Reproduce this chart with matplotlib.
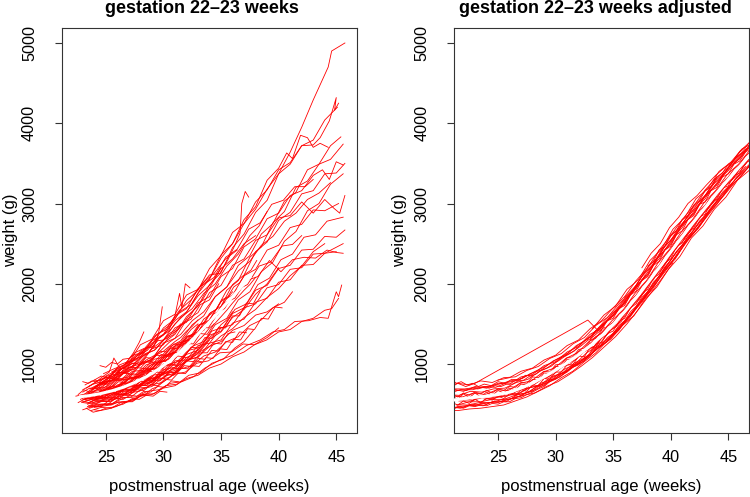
import matplotlib.pyplot as plt

plt.rcParams['font.family'] = ['Liberation Sans', 'DejaVu Sans']

# raw growth curves, one list per infant: postmenstrual age (weeks) and weight (g)
raw_weeks = [
    [23.4,24.3,25.2,26.1,27.0,28.0,29.0,30.0,31.0,32.0,33.0,34.0,35.0,36.0,37.0,38.0,39.0,40.0,41.0,42.0,43.0,44.3,44.6,45.75],
    [23.6,24.4,25.3,26.2,27.1,28.0,29.0,30.0,31.0,32.0,33.0,34.0,35.0,36.0,37.0,38.0,39.0,40.0,41.0,42.0,43.0,43.6,44.4,45.0,44.85,45.2],
    [23.1,24.0,25.0,26.0,27.0,28.0,29.0,30.0,31.0,32.0,33.0,34.0,35.0,36.0,37.0,38.0,39.0,40.0,41.0,42.0,43.0,44.0,45.1],
    [23.9,24.8,25.7,26.6,27.5,28.5,29.5,30.5,31.5,32.5,33.5,34.5,35.5,36.5,37.5,38.5,39.5,40.5,41.5,42.5,43.5,44.5,45.4],
    [22.9,23.8,24.7,25.6,26.5,27.5,28.5,29.5,30.5,31.5,32.5,33.5,34.5,35.5,36.5,37.5,38.5,39.5,40.5,41.5,42.5,43.5,44.5,45.6],
    [24.2,25.1,26.0,27.0,28.0,29.0,30.0,31.0,32.0,33.0,34.0,35.0,36.0,37.0,38.0,39.0,40.0,40.7,41.2,41.9,42.5,43.0,43.6,44.3],
    [23.3,24.2,25.1,26.0,27.0,28.0,29.0,30.0,31.0,32.0,33.0,34.0,35.0,36.0,37.0,38.0,39.0,40.0,41.0,42.0,43.0,44.0,45.0,45.75],
    [24.0,25.0,26.0,27.0,28.0,29.0,30.0,31.0,32.0,33.0,34.0,35.0,36.0,37.0,38.0,39.0,40.0,41.0,42.0,43.0,43.8,44.4,45.0,45.6],
    [23.5,24.5,25.5,26.5,27.5,28.5,29.5,30.5,31.5,32.5,33.5,34.5,35.5,36.5,37.5,38.5,39.5,40.5,41.5,42.5,43.5,44.5,45.6],
    [23.0,24.0,25.0,26.0,27.0,28.0,29.0,30.0,31.0,32.0,33.0,34.0,35.0,36.0,37.0,38.0,39.0,40.0,41.0,42.0,43.0,44.0,44.8,45.3,45.75],
    [24.4,25.3,26.2,27.1,28.0,29.0,30.0,31.0,32.0,33.0,34.0,35.0,36.0,37.0,38.0,39.0,40.0,41.0,42.0,43.0,44.0,45.2],
    [23.7,24.6,25.5,26.4,27.3,28.2,29.2,30.2,31.2,32.2,33.2,34.2,35.2,36.2,37.2,38.2,39.2,40.2,41.2,42.2,43.2,44.2,45.6],
    [23.5,24.4,25.3,26.2,27.1,28.0,29.0,30.0,31.0,32.0,33.0,34.0,34.9,35.6,36.2,36.65,36.8,37.1,37.4],
    [24.8,25.7,26.6,27.5,28.4,29.4,30.4,31.4,32.4,33.4,34.4,35.4,36.4,37.4,38.4,39.4,40.4,41.4,42.3,43.0],
    [23.2,24.1,25.0,26.0,27.0,28.0,29.0,30.0,31.0,32.0,33.0,34.0,35.0,36.0,37.0,38.0,39.0,40.0,41.0,42.0,43.0,44.0,45.0,45.75],
    [24.0,25.0,26.0,27.0,28.0,29.0,30.0,31.0,32.0,33.0,34.0,35.0,36.0,37.0,38.0,39.0,40.0,41.0,42.0,43.0,44.0,45.6],
    [23.4,24.3,25.2,26.1,27.0,28.0,29.0,30.0,31.0,32.0,33.0,34.0,35.0,36.0,37.0,38.0,39.0,40.0,41.0,42.0,43.0,44.0,45.0],
    [24.6,25.5,26.4,27.3,28.2,29.2,30.2,31.2,32.2,33.2,34.2,35.2,36.2,37.2,38.2,39.2,40.2,41.2,42.2,43.2,44.2,45.0,45.6],
    [23.8,24.7,25.6,26.5,27.4,28.3,29.3,30.3,31.3,32.3,33.3,34.3,35.3,36.3,37.3,38.3,39.3,40.3,41.2,42.0],
    [23.6,24.6,25.6,26.6,27.6,28.6,29.6,30.6,31.6,32.6,33.6,34.9,36.0,37.2,38.4,39.5,40.5,41.4,42.6,43.6,44.3,44.6,45.0,45.2,45.47],
    [23.9,24.9,25.9,26.9,27.9,28.9,29.9,30.9,31.9,32.9,33.9,34.9,35.9,36.9,37.9,38.96,40.0,41.0,42.0,43.0,44.0,44.6,45.2],
    [23.2,24.1,25.0,26.0,27.0,28.0,29.0,30.0,31.0,32.0,33.0,34.0,35.0,36.0,37.0,38.0,39.0,40.0],
    [23.5,24.3,25.1,25.9,26.7,27.4,27.9,28.3],
    [24.0,24.9,25.8,26.7,27.6,28.5,29.2,29.6,29.9],
    [23.3,24.2,25.1,26.0,26.9,27.8,28.7,29.6,30.5,31.0,31.4,31.6,31.9,32.3],
    [24.3,25.2,26.1,27.0,27.9,28.8,29.7,30.6,31.5,32.4,33.0],
    [23.0,23.9,24.8,25.7,26.6,27.5,28.5,29.5,30.5,31.5,32.5,33.5,34.5,35.3,36.0],
    [23.6,24.5,25.4,26.3,27.2,28.1,29.0,30.0,31.0,32.0,33.0,34.0],
    [22.4,23.3,24.2,25.1,26.0,26.9,27.8,28.7,29.4,30.0],
    [23.1,23.9,24.7,25.4,26.1,26.6,27.0],
    [24.5,25.4,26.3,27.2,28.1,29.0,30.0,31.0,32.0,33.0,34.0,35.0,36.0,37.0,38.0],
    [23.8,24.7,25.6,26.5,27.4,28.3,29.3,30.3,31.3,32.3,33.3,34.3,35.0],
    [25.0,25.9,26.8,27.7,28.6,29.5,30.5,31.5,32.5,33.5,34.5,35.5,36.5,37.5,38.3,39.0],
    [23.4,24.3,25.2,26.1,27.0,28.0,29.0,30.0,31.0,32.0,33.0,34.0,35.0,36.0,37.0,38.0,39.0,40.0],
    [23.7,24.6,25.5,26.4,27.3,28.2,29.2,30.2,31.2,32.2,33.2,34.2,35.2,36.2,37.0,37.8],
    [22.6,23.4,24.2,25.0,25.8],
    [23.0,23.8,24.6,25.4,26.2,27.0,27.8,28.5,29.1],
    [24.1,25.0,25.9,26.8,27.7,28.6,29.5,30.3,31.0],
    [23.0,23.9,24.8,25.7,26.6,27.5,28.4,29.4,30.4,31.4,32.4,33.4,34.4,35.4,36.4],
    [23.2,24.1,25.0,25.9,26.8,27.7,28.6,29.5,30.5,31.5,32.5,33.5,34.5,35.5,36.5,37.5,38.5,39.5,40.5,41.2],
    [23.3,24.0,24.7,25.3,25.7,26.2,26.8,27.5,28.2],
    [23.3,23.9,24.5,25.2,25.9,26.6,27.3,28.0,28.8],
    [22.8,23.4,24.0,24.6,25.2,25.8,26.4,27.0,27.6,28.2,28.8,29.4,30.0,30.6,31.2,31.8,32.4,33.0],
    [23.0,23.6,24.2,24.8,25.4,26.0,26.6,27.2,27.8,28.4,29.0,29.6,30.2,30.8,31.4,32.0,32.6,33.2,33.8,34.4],
    [23.5,24.1,24.7,25.3,25.9,26.5,27.1,27.7,28.3,28.9,29.5,30.1,30.7,31.3],
    [24.2,24.8,25.4,26.0,26.6,27.2,27.8,28.4,29.0,29.6,30.2,30.8,31.4,32.0,32.6,33.2,33.8,34.4,35.0,35.6,36.2],
    [23.2,23.8,24.4,25.0,25.6,26.2,26.8,27.4,28.0,28.6,29.2,29.8,30.4,31.0],
    [22.9,23.5,24.1,24.7,25.3,25.9,26.5,27.1,27.7,28.3,28.9,29.5,30.1,30.7,31.3,31.9,32.5,33.1,33.7,34.3,34.9,35.5,36.1,36.7,37.3,37.9,38.5,39.1,39.7,40.3],
    [24.0,24.6,25.2,25.8,26.4,27.0,27.6,28.2,28.8,29.4,30.0,30.6,31.2,31.8,32.4],
    [23.7,24.3,24.9,25.5,26.1,26.7,27.3,27.9,28.5,29.1,29.7,30.3],
    [23.4,24.0,24.6,25.2,25.8,26.4,27.0,27.6,28.2,28.8,29.4,30.0,30.6,31.2,31.8,32.4,33.0,33.6,34.2,34.8,35.4,36.0,36.6,37.2,37.8,38.4],
    [25.5,26.1,26.7,27.3,27.9,28.5,29.1,29.7,30.3,30.9,31.5,32.1,32.7,33.3,33.9,34.5],
    [23.1,23.7,24.3,24.9,25.5,26.1,26.7,27.3,27.9,28.5,29.1,29.7,30.3,30.9,31.5,32.1,32.7,33.3],
    [24.6,25.2,25.8,26.4,27.0,27.6,28.2,28.8,29.4,30.0,30.6,31.2,31.8,32.4,33.0,33.6,34.2,34.8,35.4,36.0,36.6,37.2],
    [23.9,24.5,25.1,25.7,26.3,26.9,27.5,28.1,28.7,29.3],
    [22.6,23.1,23.6,24.1,24.6,25.1,25.6,26.1,26.6,27.1,27.6,28.1,28.6,29.1,29.6,30.1,30.6,31.1,31.6,32.1,32.6,33.1,33.6,34.1,34.6,35.1,35.6,36.1,36.6,37.1,37.6,38.1],
    [23.0,23.5,24.0,24.5,25.0,25.5,26.0,26.5,27.0,27.5,28.0,28.5,29.0,29.5,30.0,30.5,31.0,31.5,32.0,32.5,33.0,33.5,34.0,34.5,35.0,35.5,36.0,36.5,37.0,37.5,38.0],
    [23.0,23.5,24.0,24.5,25.0,25.5,26.0,26.5,27.0,27.5,28.0,28.5,29.0,29.5,30.0,30.5,31.0,31.5,32.0,32.5,33.0],
    [24.0,24.5,25.0,25.5,26.0,26.5,27.0,27.5,28.0,28.5,29.0,29.5,30.0,30.5,31.0,31.5,32.0,32.5,33.0,33.5,34.0,34.5,35.0,35.5,36.0],
    [24.5,25.0,25.5,26.0,26.5,27.0,27.5,28.0,28.5,29.0,29.5,30.0,30.5,31.0,31.5],
    [23.3,23.9,24.5,25.1,25.7,26.3,26.9,27.5,28.1,28.7,29.3,29.9,30.5,31.1,31.7,32.3,32.9,33.5,34.1,34.7,35.3],
    [24.0,25.0,26.0,27.0,28.0,29.0,30.0,31.0,32.0,33.0,34.0,35.0,36.0,37.0,38.0,39.0,40.0],
    [24.5,25.5,26.5,27.5,28.5,29.5,30.5,31.5,32.5,33.5,34.5,35.5,36.5,37.5,38.5,39.5,40.5,41.5,42.5,43.5,44.5],
    [23.0,24.0,25.0,26.0,27.0,28.0,29.0,30.0,31.0,32.0,33.0,34.0,35.0,36.0,37.0,38.0,39.0,40.0,41.0,42.0,43.0,44.0],
    [26.0,26.8,27.6,28.4,29.2,30.0,30.8,31.6,32.4,33.2,34.0,34.8],
]
raw_grams = [
    [640,680,780,820,950,1030,1190,1300,1500,1640,1880,2060,2320,2500,2750,2930,3180,3370,3640,3950,4290,4700,4900,5000],
    [690,750,800,930,990,1160,1240,1450,1560,1790,1920,2190,2350,2640,2750,3020,3170,3420,3510,3720,3730,3820,4030,4320,4160,4250],
    [560,620,650,790,820,990,1060,1260,1370,1590,1720,1990,2140,2450,2620,2890,3040,3370,3490,3720,3790,4040,4200],
    [620,670,690,800,840,990,1040,1210,1290,1490,1600,1840,1960,2230,2350,2620,2750,3030,3140,3420,3490,3720,3830],
    [520,560,570,670,700,820,860,1010,1060,1260,1330,1560,1660,1920,2040,2330,2460,2760,2900,3200,3280,3490,3550,3740],
    [780,850,880,1030,1090,1290,1370,1600,1690,1940,2060,2360,2500,2800,2960,3290,3440,3630,3560,3850,3820,3700,3750,3700],
    [590,630,640,740,760,900,930,1100,1140,1340,1400,1630,1720,1990,2110,2400,2520,2790,2890,3120,3160,3370,3380,3500],
    [700,780,820,960,1000,1190,1240,1450,1520,1760,1840,2090,2190,2460,2560,2810,2880,3100,3160,3350,3420,3300,3520,3480],
    [480,530,540,650,670,800,830,1000,1040,1220,1280,1490,1570,1800,1900,2150,2270,2530,2650,2910,3000,3240,3370],
    [600,660,680,810,840,1010,1050,1260,1320,1550,1640,1890,1980,2230,2310,2540,2610,2820,2850,3020,2880,3050,2940,2880,3100],
    [650,710,720,830,850,1000,1040,1220,1270,1480,1550,1780,1860,2100,2180,2420,2480,2700,2740,2920,2910,3000],
    [530,580,580,680,690,810,830,980,1000,1170,1210,1410,1460,1680,1750,1990,2070,2300,2370,2580,2610,2780,2830],
    [720,800,840,990,1040,1240,1310,1540,1620,1860,1930,2110,2130,2300,2480,2630,3000,3150,3080],
    [880,940,990,1140,1200,1370,1440,1650,1740,1980,2080,2330,2430,2680,2760,2990,3040,3210,3210,3300],
    [560,590,580,660,670,780,790,930,960,1120,1170,1360,1410,1630,1700,1920,1980,2190,2230,2420,2430,2590,2580,2670],
    [560,610,620,730,730,860,880,1040,1050,1230,1260,1450,1490,1700,1750,1950,1990,2180,2200,2370,2380,2500],
    [470,500,500,600,610,730,740,880,900,1060,1080,1260,1300,1510,1560,1770,1820,2020,2050,2230,2240,2380,2400],
    [740,790,800,910,920,1060,1090,1260,1290,1490,1540,1760,1820,2040,2090,2290,2150,2300,2330,2320,2420,2390,2380],
    [600,650,660,770,780,920,950,1120,1150,1350,1400,1620,1690,1920,1990,2220,2270,2470,2490,2600],
    [470,500,510,580,590,660,680,760,780,840,950,1050,1110,1230,1300,1400,1430,1530,1540,1580,1570,1713,1900,1840,1984],
    [520,550,570,640,660,740,770,870,900,1010,1040,1140,1150,1250,1240,1300,1400,1430,1530,1570,1670,1690,1818],
    [540,570,580,650,670,750,780,880,920,1040,1090,1220,1280,1420,1480,1610,1650,1750],
    [640,740,800,930,1000,1140,1270,1400],
    [700,800,860,1000,1050,1200,1220,1400,1713],
    [600,680,720,850,910,1060,1140,1320,1430,1600,1880,1700,2000,1950],
    [630,690,700,810,850,980,1040,1190,1270,1430,1500],
    [590,620,620,710,730,840,880,1010,1070,1220,1310,1490,1600,1780,1900],
    [450,490,490,580,590,690,720,840,890,1030,1130,1300],
    [600,630,630,710,720,810,830,930,940,1000],
    [620,700,710,820,840,900,880],
    [760,840,890,1030,1100,1260,1360,1540,1650,1850,1980,2190,2310,2500,2600],
    [680,760,800,920,970,1110,1180,1340,1430,1620,1780,2020,2200],
    [850,920,970,1100,1170,1320,1410,1580,1690,1880,2000,2220,2370,2600,2720,2900],
    [500,540,540,620,640,740,770,890,940,1080,1150,1310,1400,1580,1680,1870,2000,2200],
    [420,460,450,530,530,620,630,730,750,860,890,1010,1060,1200,1280,1420],
    [520,580,580,680,740],
    [430,470,470,560,570,670,690,800,850],
    [560,630,650,760,790,910,960,1090,1150],
    [680,750,780,900,950,1100,1180,1360,1470,1670,1800,2010,2130,2310,2420],
    [560,580,560,630,620,700,710,810,830,940,980,1100,1150,1280,1340,1480,1550,1700,1770,1900],
    [700,760,840,900,1075,950,1010,1080,1150],
    [450,400,420,440,470,520,540,600,640],
    [560,600,580,640,620,690,680,750,740,820,810,900,890,990,980,1080,1090,1190],
    [650,700,690,760,750,820,800,880,870,950,940,1040,1030,1150,1130,1260,1250,1380,1370,1500],
    [520,500,540,530,570,560,610,600,660,650,720,710,790,780],
    [600,640,630,690,680,740,730,800,790,870,860,950,940,1040,1030,1140,1140,1260,1250,1380,1400],
    [740,790,770,840,820,900,880,960,950,1040,1020,1120,1100,1200],
    [540,520,560,550,590,580,630,620,680,670,740,730,810,800,890,880,980,970,1080,1070,1190,1180,1310,1300,1440,1430,1570,1560,1710,1700],
    [800,850,830,900,890,960,950,1030,1020,1110,1100,1200,1190,1300,1290],
    [480,470,500,490,530,520,570,560,610,600,660,650],
    [610,650,640,700,690,760,750,830,820,910,900,1000,990,1100,1090,1210,1200,1330,1320,1460,1450,1600,1600,1760,1750,1910],
    [900,950,940,1010,1000,1080,1070,1160,1150,1250,1240,1350,1340,1460,1450,1580],
    [580,560,600,590,640,630,690,680,740,730,800,790,870,860,950,940,1040,1030],
    [650,640,680,670,720,710,770,760,830,820,900,890,980,970,1070,1060,1170,1160,1280,1270,1400,1390],
    [700,760,740,820,800,880,860,950,930,1020],
    [620,680,650,700,680,730,720,780,770,840,830,900,900,990,990,1090,1100,1210,1230,1340,1370,1490,1520,1640,1680,1800,1840,1960,2010,2120,2170,2290],
    [520,510,550,540,580,570,620,620,670,680,720,750,800,840,900,940,1010,1070,1150,1210,1290,1360,1450,1510,1590,1670,1760,1840,1920,1990,2080],
    [780,760,800,790,830,820,870,880,930,940,990,1020,1070,1120,1160,1220,1280,1330,1410,1470,1550],
    [430,420,450,460,480,500,540,560,610,630,690,720,780,830,900,950,1040,1090,1180,1240,1330,1390,1490,1550,1650],
    [980,960,1020,1000,1060,1070,1120,1130,1200,1210,1290,1300,1380,1420,1500],
    [620,590,650,620,700,680,760,750,840,830,940,940,1060,1080,1210,1250,1380,1420,1560,1610,1750],
    [460,480,520,540,600,620,700,730,820,860,950,1000,1090,1150,1250,1330,1450],
    [760,800,880,940,1050,1130,1270,1370,1540,1650,1840,1960,2160,2280,2480,2590,2780,2880,3050,3130,3260],
    [560,580,620,650,710,740,820,870,960,1030,1140,1220,1350,1440,1580,1680,1830,1940,2100,2220,2400,2500],
    [900,980,1020,1130,1170,1300,1360,1500,1560,1740,1800,2000],
]

# adjusted growth curves
adj_weeks = [
    [21,22,23,24,25,26,27,28,29,30,31,32,33,34,35,36,37,38,39,40,41,42,43,44,45,46,47],
    [20.7,21.7,22.7,23.7,24.7,25.7,26.7,27.7,28.7,29.7,30.7,31.7,32.7,33.7,34.7,35.7,36.7,37.7,38.7,39.7,40.7,41.7,42.7,43.7,44.7,45.7,46.7],
    [21.3,22.3,23.3,24.3,25.3,26.3,27.3,28.3,29.3,30.3,31.3,32.3,33.3,34.3,35.3,36.3,37.3,38.3,39.3,40.3,41.3,42.3,43.3,44.3,45.3,46.3,47.3],
    [20.6,21.6,22.6,23.6,24.6,25.6,26.6,27.6,28.6,29.6,30.6,31.6,32.6,33.6,34.6,35.6,36.6,37.6,38.6,39.6,40.6,41.6,42.6,43.6,44.6,45.6,46.6],
    [21.5,22.5,23.5,24.5,25.5,26.5,27.5,28.5,29.5,30.5,31.5,32.5,33.5,34.5,35.5,36.5,37.5,38.5,39.5,40.5,41.5,42.5,43.5,44.5,45.5,46.5,47.5],
    [25.0,26.0,27.0,28.0,29.0,30.0,31.0,32.0,33.0,34.0,35.0,36.0,37.0,38.0,39.0,40.0,41.0,42.0,43.0,44.0],
    [21.2,22.2,23.2,24.2,25.2,26.2,27.2,28.2,29.2,30.2,31.2,32.2,33.2,34.2,35.2,36.2,37.2,38.2,39.2,40.2],
    [20.8,21.8,22.8,23.8,24.8,25.8,26.8,27.8,28.8,29.8,30.8,31.8,32.8,33.8,34.8,35.8,36.8,37.8],
    [21.6,22.6,23.6,24.6,25.6,26.6,27.6,28.6,29.6,30.6,31.6,32.6,33.6,34.6,35.6,36.6,37.6,38.6,39.6,40.6,41.6,42.6,43.6,44.6,45.6,46.6,47.6],
    [20.9,21.9,22.9,23.9,24.9,25.9,26.9,27.9,28.9,29.9,30.9,31.9,32.9,33.9,34.9,35.9,36.9,37.9,38.9,39.9,40.9,41.9,42.9,43.9,44.9,45.9,46.9],
    [21.4,22.4,23.4,24.4,25.4,26.4,27.4,28.4,29.4,30.4,31.4,32.4,33.4,34.4,35.4,36.4,37.4,38.4,39.4,40.4,41.4,42.4,43.4],
    [33.2,34.2,35.2,36.2,37.2,38.2,39.2,40.2,41.2,42.2,43.2,44.2,45.2,46.2,47.2],
    [30.5,31.5,32.5,33.5,34.5,35.5,36.5,37.5,38.5,39.5,40.5,41.5,42.5,43.5,44.5,45.5,46.5,47.5],
    [20.8,21.5,22.2,23.0,32.8,33.6,34.4,35.2,36.0,36.8,37.6,38.4,39.2,40.0,40.8,41.6,42.4,43.2,44.0,44.8,45.6,46.4,47.2],
    [21.1,22.1,23.1,24.1,25.1,26.1,27.1,28.1,29.1,30.1,31.1,32.1,33.1,34.1,35.1,36.1],
    [23.8,24.8,25.8,26.8,27.8,28.8,29.8,30.8,31.8,32.8,33.8,34.8,35.8,36.8,37.8,38.8,39.8,40.8,41.8,42.8,43.8,44.8,45.8,46.8],
    [36.0,37.0,38.0,39.0,40.0,41.0,42.0,43.0,44.0,45.0,46.0,47.0],
    [37.5,38.3,39.1,39.9,40.7,41.5,42.3,43.1,43.9,44.7,45.5,46.3,47.1],
    [20.5,21.5,22.5,23.5,24.5,25.5,26.5,27.5,28.5,29.5,30.5,31.5,32.5,33.5,34.5,35.5,36.5,37.5,38.5,39.5,40.5,41.5,42.5,43.5,44.5,45.5,46.5],
    [20.5,21.5,22.5,23.5,24.5,25.5,26.5,27.5,28.5,29.5,30.5,31.5,32.5,33.5,34.5,35.5,36.5,37.5,38.5,39.5,40.5,41.5,42.5,43.5,44.5,45.5,46.5],
    [21.0,21.5,22.0,22.5,23.0,23.5,24.0,24.5,25.0,25.5,26.0,26.5,27.0,27.5,28.0,28.5,29.0,29.5,30.0,30.5,31.0,31.5,32.0,32.5,33.0],
    [33.0,33.5,34.0,34.5,35.0,35.5,36.0,36.5,37.0,37.5,38.0,38.5,39.0,39.5,40.0,40.5,41.0,41.5,42.0,42.5,43.0,43.5,44.0,44.5,45.0,45.5,46.0,46.5,47.0],
    [33.0,33.5,34.0,34.5,35.0,35.5,36.0,36.5,37.0,37.5,38.0,38.5,39.0,39.5,40.0,40.5,41.0,41.5,42.0,42.5,43.0,43.5,44.0,44.5,45.0,45.5,46.0,46.5,47.0],
    [21.0,21.5,22.0,22.5,23.0,23.5,24.0,24.5,25.0,25.5,26.0,26.5,27.0,27.5,28.0,28.5,29.0,29.5,30.0,30.5,31.0,31.5,32.0,32.5,33.0],
    [21.0,21.4,21.8,22.3,22.8,23.3,23.8,24.4,25.0,25.6,26.2,26.8,27.4,28.0],
    [21.8,22.8,23.8,24.8,25.8,26.8,27.8,28.8,29.8,30.8,31.8,32.8,33.8,34.8,35.8,36.8,37.8,38.8,39.8,40.8,41.8,42.8,43.8,44.8,45.8,46.8,47.8],
    [38.0,38.5,39.0,39.5,40.0,40.5,41.0,41.5,42.0,42.5,43.0,43.5,44.0,44.5,45.0,45.5,46.0,46.5,47.0],
    [35,36,37,38,39,40,41,42,43,44,45,46,47],
    [21.0,21.5,22.0,22.5,23.0,23.5,24.0,24.5,25.0,25.5,26.0,26.5,27.0,27.5,28.0,28.5,29.0,29.5,30.0,30.5,31.0,31.5,32.0,32.5,33.0,33.5,34.0],
    [21.0,21.5,22.0,22.5,23.0,23.5,24.0,24.5,25.0,25.5,26.0,26.5,27.0,27.5,28.0,28.5,29.0,29.5,30.0,30.5,31.0,31.5,32.0,32.5,33.0,33.5,34.0],
    [21.0,21.5,22.0,22.5,23.0,23.5,24.0,24.5,25.0,25.5,26.0,26.5,27.0,27.5,28.0,28.5,29.0,29.5,30.0,30.5,31.0,31.5,32.0,32.5,33.0,33.5,34.0],
    [21.25,21.75,22.25,22.75,23.25,23.75,24.25,24.75,25.25,25.75,26.25,26.75,27.25,27.75,28.25,28.75,29.25,29.75,30.25,30.75,31.25,31.75,32.25,32.75,33.25,33.75,34.25],
    [33.0,33.5,34.0,34.5,35.0,35.5,36.0,36.5,37.0,37.5,38.0,38.5,39.0,39.5,40.0,40.5,41.0,41.5,42.0,42.5,43.0,43.5,44.0,44.5,45.0,45.5,46.0,46.5,47.0],
    [33.0,33.5,34.0,34.5,35.0,35.5,36.0,36.5,37.0,37.5,38.0,38.5,39.0,39.5,40.0,40.5,41.0,41.5,42.0,42.5,43.0,43.5,44.0,44.5,45.0,45.5,46.0,46.5,47.0],
    [33.0,33.5,34.0,34.5,35.0,35.5,36.0,36.5,37.0,37.5,38.0,38.5,39.0,39.5,40.0,40.5,41.0,41.5,42.0,42.5,43.0,43.5,44.0,44.5,45.0,45.5,46.0,46.5,47.0],
    [33.0,33.5,34.0,34.5,35.0,35.5,36.0,36.5,37.0,37.5,38.0,38.5,39.0,39.5,40.0,40.5,41.0,41.5,42.0,42.5,43.0,43.5,44.0,44.5,45.0],
]
adj_grams = [
    [690,660,720,700,760,750,840,870,980,1030,1150,1220,1370,1450,1640,1750,1970,2110,2350,2490,2740,2870,3100,3230,3450,3560,3750],
    [470,450,500,480,540,530,620,650,760,810,930,1000,1140,1230,1410,1530,1740,1890,2120,2280,2500,2650,2870,3010,3220,3340,3530],
    [560,580,570,620,610,670,690,790,830,950,1000,1140,1210,1380,1470,1680,1810,2040,2190,2420,2570,2800,2940,3160,3290,3490,3610],
    [620,610,660,650,690,700,770,810,910,970,1090,1160,1300,1400,1560,1700,1900,2060,2270,2440,2660,2820,3020,3180,3370,3510,3680],
    [490,530,530,560,560,610,640,730,780,880,960,1070,1170,1310,1440,1610,1770,1970,2150,2350,2540,2720,2900,3080,3250,3410,3570],
    [800,830,910,950,1050,1110,1230,1300,1440,1540,1700,1840,2040,2200,2420,2600,2800,2970,3170,3330],
    [460,480,490,520,530,570,610,640,720,780,870,970,1080,1210,1340,1500,1680,1870,2060,2260],
    [650,680,680,720,710,770,800,880,930,1040,1100,1230,1310,1460,1580,1760,1910,2110],
    [540,540,580,570,610,620,700,730,840,890,1010,1080,1220,1320,1480,1620,1820,1980,2200,2360,2580,2740,2950,3100,3300,3430,3610],
    [610,590,640,620,680,670,760,790,900,950,1070,1140,1280,1380,1540,1680,1880,2040,2260,2430,2640,2800,3010,3160,3360,3490,3670],
    [490,490,520,520,560,570,640,690,780,840,960,1030,1170,1270,1430,1570,1770,1930,2150,2310,2540,2690,2900],
    [1440,1610,1720,1930,2050,2290,2430,2680,2820,3060,3180,3400,3510,3680,3760],
    [860,960,1040,1180,1280,1450,1620,1810,2000,2200,2390,2580,2760,2930,3110,3280,3440,3580],
    [700,760,720,760,1548,1430,1560,1670,1810,1930,2120,2230,2420,2540,2720,2850,3010,3130,3300,3400,3560,3650,3790],
    [690,690,710,720,750,790,820,900,970,1060,1140,1250,1350,1490,1610,1790],
    [560,590,600,670,710,810,870,990,1060,1200,1300,1460,1590,1800,1950,2180,2330,2570,2710,2940,3060,3290,3400,3590],
    [1830,1980,2200,2350,2590,2740,2960,3100,3320,3450,3650,3780],
    [2200,2380,2500,2700,2830,3000,3100,3230,3350,3450,3520,3640,3730],
    [430,420,440,450,470,490,540,590,660,730,830,910,1030,1140,1290,1420,1620,1790,2000,2190,2400,2560,2780,2930,3140,3280,3460],
    [720,760,740,790,770,830,840,920,970,1070,1130,1250,1330,1480,1580,1750,1880,2090,2240,2470,2620,2850,2990,3210,3350,3540,3680],
    [600,560,630,580,640,590,650,610,670,640,700,680,750,740,810,800,890,880,970,970,1060,1060,1160,1170,1270],
    [1140,1250,1270,1380,1410,1530,1570,1700,1750,1880,1930,2070,2120,2260,2310,2460,2510,2650,2690,2830,2870,3010,3050,3190,3220,3350,3380,3510,3540],
    [1300,1410,1430,1540,1570,1690,1730,1860,1910,2040,2090,2230,2280,2420,2470,2610,2660,2800,2850,2990,3020,3160,3200,3330,3370,3490,3530,3640,3690],
    [430,470,460,490,480,510,500,530,520,550,560,590,600,650,660,720,730,800,820,880,910,980,1010,1080,1120],
    [800,760,780,740,760,720,750,730,780,760,810,800,860,850],
    [580,550,610,590,640,630,710,740,840,900,1010,1080,1220,1310,1480,1600,1810,1960,2180,2340,2570,2720,2930,3080,3290,3410,3600],
    [2220,2280,2420,2470,2610,2660,2800,2850,2980,3040,3160,3210,3330,3380,3490,3540,3640,3700,3790],
    [1370,1510,1710,1870,2090,2250,2470,2630,2840,2990,3190,3320,3500],
    [520,490,540,510,560,520,570,550,600,570,630,610,680,660,740,730,820,810,900,900,990,990,1100,1090,1210,1210,1340],
    [620,590,640,610,650,630,670,640,690,670,720,710,770,760,840,830,910,900,990,1000,1080,1090,1180,1200,1290,1320,1420],
    [440,460,450,480,470,490,480,510,500,530,530,570,580,620,650,690,720,780,810,860,900,960,990,1060,1110,1180,1240],
    [660,680,670,700,690,710,700,730,720,750,750,790,800,850,870,920,950,1000,1040,1090,1130,1180,1230,1290,1340,1400,1460],
    [1250,1340,1380,1470,1520,1620,1680,1790,1860,1970,2040,2160,2230,2350,2430,2540,2620,2730,2800,2910,2980,3090,3160,3260,3330,3430,3490,3590,3650],
    [1200,1230,1320,1370,1460,1520,1620,1690,1800,1870,1980,2050,2170,2250,2370,2440,2560,2630,2740,2810,2920,2990,3100,3170,3270,3330,3430,3490,3590],
    [1330,1420,1460,1550,1600,1700,1760,1870,1940,2050,2120,2240,2310,2430,2510,2620,2700,2810,2880,2990,3060,3170,3240,3340,3410,3500,3560,3650,3720],
    [1110,1200,1240,1330,1380,1480,1540,1650,1720,1830,1900,2020,2090,2210,2290,2400,2480,2590,2670,2770,2850,2950,3030,3120,3200],
]

# reference curves (white)
raw_ref_weeks = [22.8,23.5,24.5,25.5,26.5,27.5,28.5,29.5,30.5,31.5,32.5,33.5,34.5,35.5,36.5,37.5]
raw_ref_grams = [593,605,630,665,710,770,840,930,1035,1160,1300,1450,1600,1760,1920,2080]
adj_ref_weeks = [21,22,23,24,25,26,27,28,29,30,31,32,33,34,35,36,37,38,39,40,41,42,43,44,45,46,47]
adj_ref_grams = [548,570,585,600,620,650,700,765,840,925,1015,1115,1225,1350,1490,1650,1825,2010,2200,
                 2395,2585,2770,2950,3130,3300,3460,3620]

x_ticks = [25, 30, 35, 40, 45]
y_ticks = [1000, 2000, 3000, 4000, 5000]
titles = ['gestation 22\u201323 weeks', 'gestation 22\u201323 weeks adjusted']

fig = plt.figure(figsize=(7.5, 4.97), dpi=100)
ax1 = fig.add_axes([0.0827, 0.1288, 0.3933, 0.8149])
ax2 = fig.add_axes([0.6057, 0.1288, 0.3929, 0.8149])

panels = [
    (ax1, raw_weeks, raw_grams, raw_ref_weeks, raw_ref_grams, -0.149, 0.473),
    (ax2, adj_weeks, adj_grams, adj_ref_weeks, adj_ref_grams, -0.16, 0.48),
]
for i, (ax, weeks, grams, ref_w, ref_g, ylab_x, title_x) in enumerate(panels):
    for w, g in zip(weeks, grams):
        ax.plot(w, g, color='#ff0000', lw=0.6)
    ax.plot(ref_w, ref_g, color='white', lw=2.2, zorder=5)
    ax.set_xlim(21.2, 46.8)
    ax.set_ylim(141, 5187)
    ax.set_xticks(x_ticks)
    ax.set_yticks(y_ticks)
    ax.tick_params(axis='both', length=5, width=0.8, color='#333333',
                   labelsize=11.7, pad=7)
    ax.tick_params(axis='y', labelrotation=90, pad=13)
    for lbl in ax.get_yticklabels():
        lbl.set_va('center')
    for sp in ax.spines.values():
        sp.set_color('#333333')
        sp.set_linewidth(0.8)
    ax.set_xlabel('postmenstrual age (weeks)', fontsize=12)
    ax.set_ylabel('weight (g)', fontsize=12)
    ax.xaxis.set_label_coords(0.5, -0.114)
    ax.yaxis.set_label_coords(ylab_x, 0.5)
    ax.set_title(titles[i], fontsize=13, fontweight='bold', pad=10.5, x=title_x)

fig.savefig('out.png', dpi=100)
